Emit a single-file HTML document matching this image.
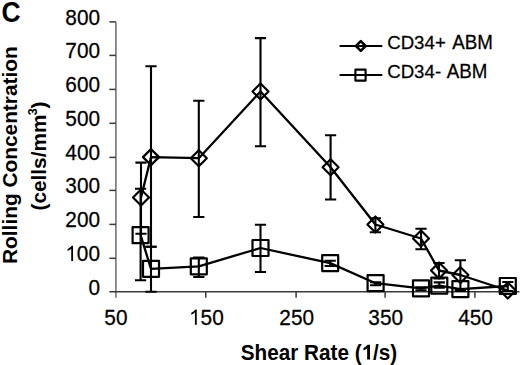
<!DOCTYPE html>
<html><head><meta charset="utf-8"><style>
html,body{margin:0;padding:0;background:#fff;width:520px;height:365px;overflow:hidden}
svg{display:block}
</style></head><body>
<svg width="520" height="365" viewBox="0 0 520 365">
<rect width="520" height="365" fill="#fff"/>
<g stroke="#3a3a3a" stroke-width="1.5" fill="none">
<path d="M109.4 21.9H115.9"/>
<path stroke="#6a6a6a" d="M115.9 21.9V297.8"/>
<path d="M109.4 291.8H519.5"/>
<path d="M109.4 258.3H115.9"/>
<path d="M109.4 224.4H115.9"/>
<path d="M109.4 190.4H115.9"/>
<path d="M109.4 157.4H115.9"/>
<path d="M109.4 123.3H115.9"/>
<path d="M109.4 89.4H115.9"/>
<path d="M109.4 55.4H115.9"/>
<path d="M205.75 291.8V297.8"/>
<path d="M296.1 291.8V297.8"/>
<path d="M385.1 291.8V297.8"/>
<path d="M474.9 291.8V297.8"/>
</g>
<g font-family="'Liberation Sans', sans-serif" fill="#000" stroke="#000" stroke-width="0.25">
<g transform="translate(100 294.6) scale(1 1.07)"><text x="-11.57" y="0" font-size="20.8" xml:space="preserve">0</text></g>
<g transform="translate(100 261.1) scale(1 1.07)"><path transform="translate(-34.7 0) scale(0.01016 -0.01016)" d="M763 0L583 0L583 1147Q518 1085 412 1023Q307 961 223 930L223 1104Q374 1175 487 1276Q600 1377 647 1409L763 1409Z"/><text x="-23.14" y="0" font-size="20.8" xml:space="preserve">00</text></g>
<g transform="translate(100 227.2) scale(1 1.07)"><text x="-34.7" y="0" font-size="20.8" xml:space="preserve">200</text></g>
<g transform="translate(100 193.2) scale(1 1.07)"><text x="-34.7" y="0" font-size="20.8" xml:space="preserve">300</text></g>
<g transform="translate(100 160.2) scale(1 1.07)"><text x="-34.7" y="0" font-size="20.8" xml:space="preserve">400</text></g>
<g transform="translate(100 126.1) scale(1 1.07)"><text x="-34.7" y="0" font-size="20.8" xml:space="preserve">500</text></g>
<g transform="translate(100 92.2) scale(1 1.07)"><text x="-34.7" y="0" font-size="20.8" xml:space="preserve">600</text></g>
<g transform="translate(100 58.2) scale(1 1.07)"><text x="-34.7" y="0" font-size="20.8" xml:space="preserve">700</text></g>
<g transform="translate(100 24.7) scale(1 1.07)"><text x="-34.7" y="0" font-size="20.8" xml:space="preserve">800</text></g>
<g transform="translate(115.9 324.8) scale(1 1.07)"><text x="-11.57" y="0" font-size="20.8" xml:space="preserve">50</text></g>
<g transform="translate(206.35 324.8) scale(1 1.07)"><path transform="translate(-17.35 0) scale(0.01016 -0.01016)" d="M763 0L583 0L583 1147Q518 1085 412 1023Q307 961 223 930L223 1104Q374 1175 487 1276Q600 1377 647 1409L763 1409Z"/><text x="-5.78" y="0" font-size="20.8" xml:space="preserve">50</text></g>
<g transform="translate(296.7 324.8) scale(1 1.07)"><text x="-17.35" y="0" font-size="20.8" xml:space="preserve">250</text></g>
<g transform="translate(385.7 324.8) scale(1 1.07)"><text x="-17.35" y="0" font-size="20.8" xml:space="preserve">350</text></g>
<g transform="translate(475.5 324.8) scale(1 1.07)"><text x="-17.35" y="0" font-size="20.8" xml:space="preserve">450</text></g>
</g>
<g stroke="#000" stroke-width="2.1" fill="none">
<path d="M141 162.6V233.8M135.4 162.6H146.6M135.4 233.8H146.6"/>
<path d="M151 66.3V246.8M145.4 66.3H156.6M145.4 246.8H156.6"/>
<path d="M198.8 100.7V217M193.2 100.7H204.4M193.2 217H204.4"/>
<path d="M260.5 38.1V146.3M254.9 38.1H266.1M254.9 146.3H266.1"/>
<path d="M330.6 135.3V199.5M325 135.3H336.2M325 199.5H336.2"/>
<path d="M375.4 218.3V232.3M369.8 218.3H381M369.8 232.3H381"/>
<path d="M421 228.7V249.3M415.4 228.7H426.6M415.4 249.3H426.6"/>
<path d="M439 263V278.5M433.4 263H444.6M433.4 278.5H444.6"/>
<path d="M460.4 260.2V290.5M454.8 260.2H466M454.8 290.5H466"/>
<path d="M507.8 282V291M502.2 282H513.4M502.2 291H513.4"/>
<path d="M140.6 188.8V280.3M135 188.8H146.2M135 280.3H146.2"/>
<path d="M151 246.8V291.8M145.4 246.8H156.6M145.4 291.8H156.6"/>
<path d="M198.8 257.5V277M193.2 257.5H204.4M193.2 277H204.4"/>
<path d="M260.5 224.8V272M254.9 224.8H266.1M254.9 272H266.1"/>
<path d="M330.2 260.8V266M324.6 260.8H335.8M324.6 266H335.8"/>
<path d="M375.6 282.2V285.2M370 282.2H381.2M370 285.2H381.2"/>
<path d="M421 287.2V290.2M415.4 287.2H426.6M415.4 290.2H426.6"/>
<path d="M439.3 282.4V287.6M433.7 282.4H444.9M433.7 287.6H444.9"/>
<path d="M460.4 289.6V291M454.8 289.6H466M454.8 291H466"/>
</g>
<path d="M141 197.5 L151 157.1 L198.8 158.2 L260.5 91.5 L330.6 167.2 L375.4 224.5 L421 238.5 L439 270.5 L460.4 275 L507.8 290.5" stroke="#000" stroke-width="2.3" fill="none" stroke-linejoin="round"/>
<path d="M140.6 235.2 L151 268.8 L198.8 266.3 L260.5 248 L330.2 263.1 L375.6 283.2 L421 288.3 L439.3 285.6 L460.4 289.1 L507.8 286" stroke="#000" stroke-width="2.3" fill="none" stroke-linejoin="round"/>
<g stroke="#000" stroke-width="2.2" fill="none" stroke-linejoin="round">
<path d="M141 189.5L149 197.5L141 205.5L133 197.5Z"/>
<path d="M151 149.1L159 157.1L151 165.1L143 157.1Z"/>
<path d="M198.8 150.2L206.8 158.2L198.8 166.2L190.8 158.2Z"/>
<path d="M260.5 83.5L268.5 91.5L260.5 99.5L252.5 91.5Z"/>
<path d="M330.6 159.2L338.6 167.2L330.6 175.2L322.6 167.2Z"/>
<path d="M375.4 216.5L383.4 224.5L375.4 232.5L367.4 224.5Z"/>
<path d="M421 230.5L429 238.5L421 246.5L413 238.5Z"/>
<path d="M439 262.5L447 270.5L439 278.5L431 270.5Z"/>
<path d="M460.4 267L468.4 275L460.4 283L452.4 275Z"/>
<path d="M507.8 282.5L515.8 290.5L507.8 298.5L499.8 290.5Z"/>
<rect x="132.6" y="227.2" width="16" height="16"/>
<rect x="143" y="260.8" width="16" height="16"/>
<rect x="190.8" y="258.3" width="16" height="16"/>
<rect x="252.5" y="240" width="16" height="16"/>
<rect x="322.2" y="255.1" width="16" height="16"/>
<rect x="367.6" y="275.2" width="16" height="16"/>
<rect x="413" y="280.3" width="16" height="16"/>
<rect x="431.3" y="277.6" width="16" height="16"/>
<rect x="452.4" y="281.1" width="16" height="16"/>
<rect x="499.8" y="278" width="16" height="16"/>
</g>
<g stroke="#000" stroke-width="2" fill="none" stroke-linejoin="round">
<path d="M339.6 46H382.3"/>
<path d="M339.6 74.9H382.3"/>
<path stroke-width="2.5" d="M360.8 41.2L365.6 46L360.8 50.8L356 46Z"/>
<rect stroke-width="2.1" x="355.4" y="69.6" width="10.2" height="11"/>
</g>
<g font-family="'Liberation Sans', sans-serif" fill="#000" stroke="#000" stroke-width="0.25">
<g transform="translate(388.2 48.8) scale(1 1.03)"><text x="-0.94" y="0" font-size="18.6" xml:space="preserve">CD34</text></g>
<g transform="translate(436 48.8) scale(1 1.03)"><text x="-0.91" y="0" font-size="18.6" xml:space="preserve">+</text></g>
<g transform="translate(452.2 48.8) scale(1 1.03)"><text x="-0.04" y="0" font-size="18.75" xml:space="preserve">ABM</text></g>
<g transform="translate(388.2 77.5) scale(1 1.03)"><text x="-0.94" y="0" font-size="18.6" xml:space="preserve">CD34</text></g>
<g transform="translate(435.9 77.5) scale(1 1.03)"><text x="-0.83" y="0" font-size="18.6" xml:space="preserve">-</text></g>
<g transform="translate(446.9 77.5) scale(1 1.03)"><text x="-0.04" y="0" font-size="18.75" xml:space="preserve">ABM</text></g>
</g>
<g font-family="'Liberation Sans', sans-serif" fill="#000">
<g transform="translate(1.5 21.9) scale(0.98 1.07)"><text x="0" y="0" font-size="27" font-weight="bold" xml:space="preserve">C</text></g>
<g transform="translate(319 359.5) scale(1 1.04)"><text x="-78.23" y="0" font-size="20.7" font-weight="bold" xml:space="preserve">Shear Rate (</text><path transform="translate(42.56 0) scale(0.01011 -0.01011)" d="M834 0L553 0L553 1059Q399 915 191 846L191 1101Q300 1137 428 1236Q556 1335 603 1409L834 1409Z"/><text x="54.07" y="0" font-size="20.7" font-weight="bold" xml:space="preserve">/s)</text></g>
</g>
<g font-family="'Liberation Sans', sans-serif" fill="#000">
<text transform="translate(16.6 0) rotate(-90)" x="-263.99" y="0" font-size="20.85" font-weight="bold">Rolling Concentration</text>
<text transform="translate(46 0) rotate(-90)" x="-210.54" y="0" font-size="20.8" font-weight="bold">(cells/mm</text>
<g transform="translate(0 0)"><text transform="translate(36.9 0) rotate(-90)" x="-115.14" y="0" font-size="12.5" font-weight="bold">3</text></g>
<text transform="translate(46 0) rotate(-90)" x="-108.39" y="0" font-size="20.8" font-weight="bold">)</text>
</g>
</svg>
</body></html>
